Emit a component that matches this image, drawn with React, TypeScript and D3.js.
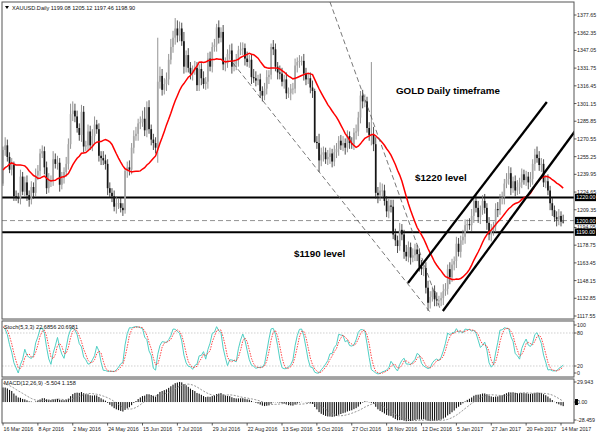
import React from "react";
import * as d3 from "d3";

// ---- data (XAUUSD daily) ----
const historyCloses = [1075,1078,1092,1109,1098,1097,1086,1086,1073,1090,1088,1089,1106,1098,1097,1107,1120,1126,1114,1118,1128,1128,1141,1156,1173,1197,1198,1194,1248,1239,1208,1208,1211,1226,1230,1209,1226,1239,1236,1221,1238,1231,1241,1259,1271,1267,1263,1257,1272,1259,1237,1232];

const firstOpen = 1232;

const closes = [
1261,1265,1255,1244,1248,1221,1220,1219,1238,1225,
1233,1222,1218,1229,1224,1239,1243,1258,1260,1246,
1228,1235,1235,1253,1249,1250,1231,1237,1242,1249,
1266,1292,1295,1290,1280,1274,1294,1264,1265,1277,
1265,1273,1283,1279,1256,1254,1252,1249,1228,1224,
1221,1212,1215,1215,1211,1209,1243,1246,1244,1263,
1273,1275,1284,1285,1288,1278,1298,1279,1270,1267,
1263,1320,1325,1313,1318,1322,1339,1350,1358,1366,
1360,1366,1355,1333,1343,1332,1327,1330,1332,1317,
1331,1323,1318,1320,1340,1333,1350,1352,1367,1358,
1363,1335,1336,1344,1347,1333,1335,1339,1347,1348,
1349,1340,1337,1339,1324,1323,1321,1322,1312,1308,
1314,1324,1326,1350,1348,1333,1328,1327,1320,1322,
1310,1310,1314,1314,1334,1337,1338,1338,1327,1322,
1323,1315,1312,1268,1267,1252,1257,1259,1253,1255,
1258,1251,1259,1262,1269,1265,1267,1263,1273,1267,
1266,1276,1277,1289,1308,1303,1303,1280,1274,1274,
1266,1224,1222,1226,1226,1217,1208,1213,1212,1188,
1183,1178,1192,1188,1173,1169,1177,1168,1170,1175,
1171,1160,1158,1159,1142,1129,1134,1139,1132,1131,
1131,1133,1139,1141,1158,1151,1162,1165,1180,1173,
1183,1186,1196,1197,1196,1204,1217,1211,1203,1209,
1217,1211,1198,1188,1191,1195,1210,1209,1219,1220,
1232,1236,1241,1228,1234,1226,1229,1233,1240,1235,
1238,1233,1236,1249,1257,1254,1248,1249,1233,1234,
1226,1215,1209,1203,1201,1204,1199,1198.9];

const wickUp = [
3,7,5,4,6,3,5,4,6,4,
5,6,4,5,4,6,5,4,5,4,
5,6,4,7,5,6,4,5,4,6,
5,9,8,6,5,4,6,5,4,6,
5,6,7,4,5,4,6,5,4,5,
4,5,6,4,5,4,1,5,6,4,
5,6,4,5,7,10,5,6,4,5,
5,38,8,6,5,6,5,7,6,9,
7,6,5,8,4,6,5,4,6,5,
4,5,6,4,5,6,4,5,3,6,
4,6,5,4,5,6,4,5,4,6,
5,4,6,4,5,7,6,4,5,4,
5,6,4,3,6,5,4,6,5,4,
6,5,4,5,6,4,5,4,6,5,
4,5,6,2,5,8,6,5,4,6,
5,4,6,5,4,5,6,4,5,4,
5,4,6,5,4,5,6,4,5,63,
7,6,5,7,6,5,4,6,5,6,
5,4,6,5,4,6,5,4,6,5,
4,5,6,4,5,6,5,4,5,6,
4,5,6,5,4,6,5,4,6,5,
4,6,5,4,5,6,4,5,6,4,
5,6,4,5,6,4,5,6,4,5,
4,5,6,5,4,5,6,4,5,4,
5,4,6,4,5,7,6,5,4,5,
6,4,5,4,5,6,4,6];

const wickDn = [
2,5,4,3,5,4,3,4,5,3,
4,5,6,4,5,3,4,5,4,6,
5,4,6,5,4,5,6,4,5,4,
5,4,6,5,4,5,6,5,4,5,
4,5,6,4,5,6,4,5,6,4,
5,4,6,5,4,5,3,6,5,4,
5,4,6,5,4,5,6,4,5,6,
5,13,6,5,4,6,5,4,5,6,
6,5,4,6,5,4,5,6,4,5,
5,6,4,5,6,4,5,4,6,5,
4,5,6,4,5,6,4,5,6,4,
5,6,4,5,6,4,5,4,6,5,
4,5,6,4,5,4,6,5,4,6,
5,4,6,5,4,6,5,4,6,5,
4,5,6,1,5,10,5,6,4,5,
6,5,4,5,6,4,5,6,4,5,
4,5,6,4,5,6,5,4,5,9,
6,5,7,5,6,4,5,6,5,4,
5,6,4,5,6,4,5,6,4,5,
6,4,5,6,5,7,5,4,6,5,
4,5,6,4,5,6,4,5,6,4,
5,4,6,5,4,5,6,4,5,6,
4,5,6,5,6,4,5,6,4,5,
6,4,5,6,4,5,4,6,5,4,
5,6,4,5,6,4,5,6,4,5,
4,6,5,4,6,5,4,2];

const lastBar = { open: 1199.08, high: 1205.12, low: 1197.46, close: 1198.9 };
const titleText = "XAUUSD.Daily  1199.08 1205.12 1197.46 1198.90";
const stochTitle = "Stoch(5,3,3) 22.6856 20.6981";
const macdTitle = "MACD(12,26,9) -5.504 1.158";

const dateLabels = ["16 Mar 2016","8 Apr 2016","2 May 2016","24 May 2016","15 Jun 2016","7 Jul 2016","29 Jul 2016","22 Aug 2016","13 Sep 2016","5 Oct 2016","27 Oct 2016","18 Nov 2016","12 Dec 2016","5 Jan 2017","27 Jan 2017","20 Feb 2017","14 Mar 2017"];
const dateLabelStep = 16;

const priceTicks = [1377.65,1362.35,1347.05,1331.75,1316.45,1301.15,1285.85,1270.55,1255.25,1239.95,1224.65,1209.35,1194.05,1178.75,1163.45,1148.15,1132.85,1117.55];
const priceDomain = [1117.55, 1377.65];

const solidLevels = [1220, 1190];
const dashedLevels = [1200];
const levelBoxes = [1220, 1200, 1190];

const stochLevels = [20, 80];
const stochTickLabels = [100, 80, 20, 0];
const macdDomain = [-28.459, 29.943];
const macdTickLabels = ["29.943", "0.00", "-28.459"];

// annotations in (bar index, price)
const dashedTrendLines = [
  [150, 1389, 200.5, 1124],
  [105.5, 1336.2, 195.9, 1121],
];
const channelLines = [
  [185.8, 1146.1, 249.5, 1302.5],
  [201.8, 1121.9, 262.8, 1278.3],
];
const textNotes = [
  { text: "GOLD Daily timeframe", bar: 180.3, price: 1309.4 },
  { text: "$1220 level", bar: 189, price: 1234.2 },
  { text: "$1190 level", bar: 133.5, price: 1168.5 },
];

const maPeriod = 20;

const FONT = "'Liberation Sans', Arial, sans-serif";

export default function App() {
  const FR = 574;
  const FL = 2;
  const MAIN = { top: 2, bottom: 319 };
  const STO = { top: 321, bottom: 377 };
  const MAC = { top: 379, bottom: 423 };

  const n = closes.length;
  const xs = d3.scaleLinear().domain([0, 256]).range([3, 561]);
  const yP = d3.scaleLinear().domain(priceDomain).range([316, 15]);
  const yS = d3.scaleLinear().domain([0, 100]).range([377, 322]);
  const yM = d3.scaleLinear().domain(macdDomain).range([423, 380]);

  const bars = closes.map((c, i) => {
    if (i === n - 1) return { ...lastBar, i };
    const o = i === 0 ? firstOpen : closes[i - 1];
    return {
      i,
      open: o,
      close: c,
      high: Math.max(o, c) + wickUp[i],
      low: Math.min(o, c) - wickDn[i],
    };
  });

  const all = historyCloses.concat(closes);
  const off = historyCloses.length;

  const ma = closes.map((_, i) => d3.mean(all.slice(off + i - maPeriod + 1, off + i + 1)) as number);

  const stMain = bars.map((_, i) => {
    let num = 0, den = 0;
    for (let j = Math.max(0, i - 2); j <= i; j++) {
      const w = bars.slice(Math.max(0, j - 4), j + 1);
      const ll = d3.min(w, (b) => b.low) as number;
      const hh = d3.max(w, (b) => b.high) as number;
      num += bars[j].close - ll;
      den += hh - ll;
    }
    return den > 0 ? (100 * num) / den : 50;
  });
  const stSig = stMain.map((_, i) => d3.mean(stMain.slice(Math.max(0, i - 2), i + 1)) as number);

  const ema = (arr: number[], p: number) => {
    const k = 2 / (p + 1);
    let e = arr[0];
    return arr.map((v, i) => (e = i === 0 ? v : v * k + e * (1 - k)));
  };
  const e12 = ema(all, 12);
  const e26 = ema(all, 26);
  const macdAll = all.map((_, i) => e12[i] - e26[i]);
  const sigAll = macdAll.map((_, i) => d3.mean(macdAll.slice(Math.max(0, i - 8), i + 1)) as number);
  const macd = macdAll.slice(off);
  const macdSig = sigAll.slice(off);

  const maLine = d3.line<number>().x((_, i) => xs(i)).y((d) => yP(d));
  const stLine = d3.line<number>().x((_, i) => xs(i)).y((d) => yS(d));
  const macdSigLine = d3.line<number>().x((_, i) => xs(i)).y((d) => yM(d));

  const axisText = { fontFamily: FONT, fontSize: 5.3, fill: "#222" } as const;

  return (
    <svg width={600} height={436} style={{ position: "fixed", left: 0, top: 0, background: "#fff" }}>
      <defs>
        <clipPath id="cMain"><rect x={FL} y={MAIN.top} width={FR - FL} height={MAIN.bottom - MAIN.top} /></clipPath>
        <clipPath id="cSto"><rect x={FL} y={STO.top} width={FR - FL} height={STO.bottom - STO.top} /></clipPath>
        <clipPath id="cMac"><rect x={FL} y={MAC.top} width={FR - FL} height={MAC.bottom - MAC.top} /></clipPath>
      </defs>
      <rect x={0} y={0} width={600} height={436} fill="#fff" />

      {/* ---------- MAIN ---------- */}
      <g clipPath="url(#cMain)">
        {dashedLevels.map((p) => (
          <line key={"dl" + p} x1={FL} x2={FR} y1={yP(p)} y2={yP(p)} stroke="#777" strokeWidth={0.8} strokeDasharray="5,3" />
        ))}
        {solidLevels.map((p) => (
          <line key={"sl" + p} x1={FL} x2={FR} y1={yP(p)} y2={yP(p)} stroke="#000" strokeWidth={2} />
        ))}
        {bars.map((b) => {
          const up = b.close >= b.open;
          const x = xs(b.i);
          const yt = yP(Math.max(b.open, b.close));
          const yb = yP(Math.min(b.open, b.close));
          return (
            <g key={"b" + b.i}>
              <line x1={x} x2={x} y1={yP(b.high)} y2={yP(b.low)} stroke={up ? "#777" : "#222"} strokeWidth={0.8} />
              <rect x={x - 0.85} y={yt} width={1.7} height={Math.max(0.8, yb - yt)} fill={up ? "#a6a6a6" : "#151515"} />
            </g>
          );
        })}
        <path d={maLine(ma) || ""} fill="none" stroke="#f00" strokeWidth={1.5} />
        {dashedTrendLines.map((l, k) => (
          <line key={"dt" + k} x1={xs(l[0])} y1={yP(l[1])} x2={xs(l[2])} y2={yP(l[3])} stroke="#555" strokeWidth={0.8} strokeDasharray="5,3" />
        ))}
        {channelLines.map((l, k) => (
          <line key={"ch" + k} x1={xs(l[0])} y1={yP(l[1])} x2={xs(l[2])} y2={yP(l[3])} stroke="#000" strokeWidth={2.3} />
        ))}
        {textNotes.map((t) => (
          <text key={t.text} x={xs(t.bar)} y={yP(t.price)} fontFamily={FONT} fontWeight="bold" fontSize={9.8} fill="#000">{t.text}</text>
        ))}
      </g>
      <path d="M5,6 L9,6 L7,9 Z" fill="#000" />
      <text x={12} y={10} fontFamily={FONT} fontSize={5.6} fill="#111">{titleText}</text>

      {/* ---------- STOCH ---------- */}
      <g clipPath="url(#cSto)">
        {stochLevels.map((v) => (
          <line key={"sv" + v} x1={FL} x2={FR} y1={yS(v)} y2={yS(v)} stroke="#bbb" strokeWidth={0.7} strokeDasharray="1.5,1.5" />
        ))}
        <path d={stLine(stMain) || ""} fill="none" stroke="#4fcfc4" strokeWidth={1} />
        <path d={stLine(stSig) || ""} fill="none" stroke="#ff3030" strokeWidth={0.9} strokeDasharray="1.5,1.2" />
      </g>
      <text x={4} y={329} fontFamily={FONT} fontSize={5.6} fill="#111">{stochTitle}</text>

      {/* ---------- MACD ---------- */}
      <g clipPath="url(#cMac)">
        {macd.map((v, i) => (
          <rect key={"m" + i} x={xs(i) - 0.55} width={1.1} y={Math.min(yM(0), yM(v))} height={Math.abs(yM(v) - yM(0))} fill="#111" />
        ))}
        <path d={macdSigLine(macdSig) || ""} fill="none" stroke="#888" strokeWidth={0.9} strokeDasharray="2,1.5" />
      </g>
      <text x={4} y={385} fontFamily={FONT} fontSize={5.6} fill="#111">{macdTitle}</text>

      {/* ---------- frames ---------- */}
      <rect x={FL} y={MAIN.top} width={FR - FL} height={MAIN.bottom - MAIN.top} fill="none" stroke="#555" strokeWidth={1} />
      <rect x={FL} y={STO.top} width={FR - FL} height={STO.bottom - STO.top} fill="none" stroke="#555" strokeWidth={1} />
      <rect x={FL} y={MAC.top} width={FR - FL} height={MAC.bottom - MAC.top} fill="none" stroke="#555" strokeWidth={1} />
      <line x1={FL} x2={FR} y1={320} y2={320} stroke="#999" strokeWidth={1} />
      <line x1={FL} x2={FR} y1={378} y2={378} stroke="#999" strokeWidth={1} />

      {/* price axis */}
      {priceTicks.map((p) => (
        <g key={"pt" + p}>
          <line x1={FR} x2={FR + 2.5} y1={yP(p)} y2={yP(p)} stroke="#333" strokeWidth={0.8} />
          <text x={FR + 3} y={yP(p) + 2} {...axisText}>{p.toFixed(2)}</text>
        </g>
      ))}
      {levelBoxes.map((p) => (
        <g key={"lb" + p}>
          <rect x={FR + 1} y={yP(p) - 3.7} width={21} height={7.4} fill="#000" />
          <text x={FR + 2.3} y={yP(p) + 2} fontFamily={FONT} fontSize={5.3} fill="#fff">{p.toFixed(2)}</text>
        </g>
      ))}

      {stochTickLabels.map((v) => {
        const y = Math.min(Math.max(yS(v), STO.top + 4), STO.bottom - 4);
        return (
          <g key={"st" + v}>
            <line x1={FR} x2={FR + 2.5} y1={y} y2={y} stroke="#333" strokeWidth={0.8} />
            <text x={FR + 3} y={y + 2} {...axisText}>{v}</text>
          </g>
        );
      })}

      {macdTickLabels.map((s) => {
        const v = parseFloat(s);
        const y = Math.min(Math.max(yM(v), MAC.top + 3), MAC.bottom - 3);
        return (
          <g key={"mt" + s}>
            <line x1={FR} x2={FR + 2.5} y1={y} y2={y} stroke="#333" strokeWidth={0.8} />
            {v === 0 && <rect x={FR + 1} y={y - 3} width={3} height={6} fill="#000" />}
            <text x={FR + 3} y={y + 2} {...axisText}>{s}</text>
          </g>
        );
      })}

      {dateLabels.map((d, k) => {
        const x = xs(k * dateLabelStep);
        return (
          <g key={d}>
            <line x1={x} x2={x} y1={MAC.bottom} y2={MAC.bottom + 2.5} stroke="#333" strokeWidth={0.8} />
            <text x={x + 0.5} y={431} {...axisText}>{d}</text>
          </g>
        );
      })}
    </svg>
  );
}
